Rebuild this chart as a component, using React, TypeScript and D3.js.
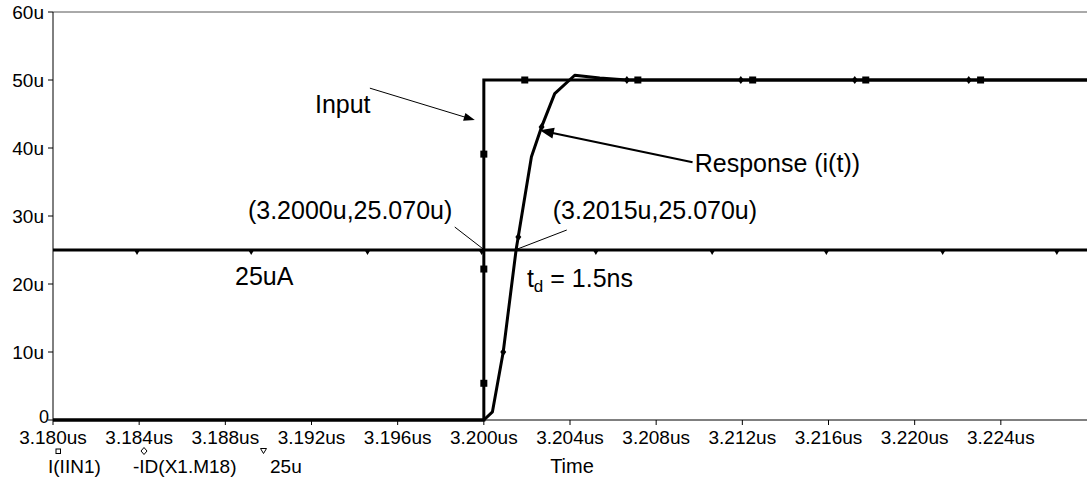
import React from "react";
import * as d3 from "d3";

// Transient simulation: current step input vs. drain current response
const W = 1087;
const H = 483;
const FONT = "'Liberation Sans', Arial, Helvetica, sans-serif";

const xTickValues = [3.18, 3.184, 3.188, 3.192, 3.196, 3.2, 3.204, 3.208, 3.212, 3.216, 3.22, 3.224];
const xTickLabels = ["3.180us", "3.184us", "3.188us", "3.192us", "3.196us", "3.200us", "3.204us", "3.208us", "3.212us", "3.216us", "3.220us", "3.224us"];
const yTickValues = [0, 10, 20, 30, 40, 50, 60];
const yTickLabels = ["0", "10u", "20u", "30u", "40u", "50u", "60u"];

// I(IIN1): ideal step input (uA)
const inputT = [3.18, 3.2, 3.2, 3.228];
const inputV = [0, 0, 50, 50];
const inputMarkT = [3.2, 3.2, 3.2, 3.2019, 3.20715, 3.21248, 3.21773, 3.22306];
const inputMarkV = [5.4, 22.2, 39.1, 50, 50, 50, 50, 50];

// -ID(X1.M18): response current (uA)
const responseT = [3.18, 3.2, 3.2004, 3.2009, 3.2015, 3.20221, 3.20268, 3.20329, 3.20422, 3.20538, 3.20664, 3.228];
const responseV = [0, 0, 1.2, 10.0, 25.07, 38.7, 43.1, 48.0, 50.7, 50.3, 50.0, 50.0];
const responseMarkT = [3.2009, 3.2016, 3.20268, 3.20664, 3.21193, 3.21722, 3.22251];
const responseMarkV = [10.0, 26.9, 43.1, 50, 50, 50, 50];

// 25u reference level
const refT = [3.18, 3.228];
const refV = [25, 25];
const refMarkT = [3.1839, 3.1892, 3.1946, 3.1999, 3.2052, 3.2106, 3.2159, 3.2213, 3.2266];

const legendItems = ["I(IIN1)", "-ID(X1.M18)", "25u"];

const x = d3.scaleLinear().domain([3.18, 3.228]).range([53, 1087]);
const y = d3.scaleLinear().domain([0, 60]).range([420, 12]);

const line = d3
  .line<[number, number]>()
  .x((d) => x(d[0]))
  .y((d) => y(d[1]));

const zip = (a: number[], b: number[]): [number, number][] => a.map((v, i) => [v, b[i]]);

function arrowHead(x1: number, y1: number, x2: number, y2: number, len: number, half: number) {
  const a = Math.atan2(y2 - y1, x2 - x1);
  const bx = x2 - len * Math.cos(a);
  const by = y2 - len * Math.sin(a);
  const px = -Math.sin(a) * half;
  const py = Math.cos(a) * half;
  return `M${x2},${y2}L${bx + px},${by + py}L${bx - px},${by - py}Z`;
}

function Arrow({ from, to, width, len, half }: { from: [number, number]; to: [number, number]; width: number; len: number; half: number }) {
  const x1 = x(from[0]), y1 = y(from[1]), x2 = x(to[0]), y2 = y(to[1]);
  const a = Math.atan2(y2 - y1, x2 - x1);
  const ex = x2 - (len - 1) * Math.cos(a);
  const ey = y2 - (len - 1) * Math.sin(a);
  return (
    <g>
      <line x1={x1} y1={y1} x2={ex} y2={ey} stroke="#000" strokeWidth={width} />
      <path d={arrowHead(x1, y1, x2, y2, len, half)} fill="#000" />
    </g>
  );
}

function Leader({ from, to }: { from: [number, number]; to: [number, number] }) {
  return <line x1={x(from[0])} y1={y(from[1])} x2={x(to[0])} y2={y(to[1])} stroke="#000" strokeWidth={1} />;
}

export default function App() {
  const plotRight = W;
  return (
    <svg
      width={W}
      height={H}
      viewBox={`0 0 ${W} ${H}`}
      style={{ position: "absolute", left: 0, top: 0, display: "block", background: "#fff" }}
      fontFamily={FONT}
    >
      <rect x={0} y={0} width={W} height={H} fill="#fff" />

      {/* frame */}
      <line x1={x(3.18)} y1={y(60)} x2={plotRight} y2={y(60)} stroke="#555" strokeWidth={1} />
      <line x1={x(3.18)} y1={y(60)} x2={x(3.18)} y2={y(0)} stroke="#000" strokeWidth={1} />
      <line x1={x(3.18)} y1={y(0)} x2={plotRight} y2={y(0)} stroke="#000" strokeWidth={1} />

      {/* y axis */}
      {yTickValues.map((v, i) => (
        <g key={"y" + v}>
          <line x1={x(3.18) - 5} x2={x(3.18)} y1={y(v)} y2={y(v)} stroke="#000" strokeWidth={1} />
          <text
            x={v === 0 ? x(3.18) - 4 : x(3.18) - 9}
            y={v === 0 ? y(v) - 3 : y(v)}
            dy="0.35em"
            textAnchor="end"
            fontSize={v === 0 ? 18 : 19}
            fill="#000"
          >
            {yTickLabels[i]}
          </text>
        </g>
      ))}

      {/* x axis */}
      {xTickValues.map((v, i) => (
        <g key={"x" + v}>
          <line x1={x(v)} x2={x(v)} y1={y(0)} y2={y(0) + 5} stroke="#000" strokeWidth={1} />
          <text x={x(v)} y={444} textAnchor="middle" fontSize={19} fill="#000">
            {xTickLabels[i]}
          </text>
        </g>
      ))}

      {/* traces */}
      <path d={line(zip(refT, refV)) || ""} fill="none" stroke="#000" strokeWidth={3} />
      <path d={line(zip(inputT, inputV)) || ""} fill="none" stroke="#000" strokeWidth={3} strokeLinejoin="miter" />
      <path d={line(zip(responseT, responseV)) || ""} fill="none" stroke="#000" strokeWidth={3} strokeLinejoin="round" />

      {/* trace markers */}
      {inputMarkT.map((t, i) => (
        <rect key={"im" + i} x={x(t) - 3.5} y={y(inputMarkV[i]) - 3.5} width={7} height={7} fill="#000" />
      ))}
      {responseMarkT.map((t, i) => {
        const cx = x(t), cy = y(responseMarkV[i]);
        return <path key={"rm" + i} d={`M${cx},${cy - 4}L${cx + 3},${cy}L${cx},${cy + 4}L${cx - 3},${cy}Z`} fill="#000" />;
      })}
      {refMarkT.map((t, i) => {
        const cx = x(t), cy = y(25);
        return <path key={"fm" + i} d={`M${cx - 3.5},${cy - 1}L${cx + 3.5},${cy - 1}L${cx},${cy + 5}Z`} fill="#000" />;
      })}

      {/* annotations */}
      <text x={x(3.19216)} y={y(45.15)} fontSize={25} fill="#000">Input</text>
      <Arrow from={[3.19471, 48.8]} to={[3.19958, 44.1]} width={1} len={11} half={4} />

      <text x={x(3.20979)} y={y(36.5)} fontSize={25} fill="#000">Response (i(t))</text>
      <Arrow from={[3.20969, 37.9]} to={[3.2026, 42.6]} width={2.2} len={14} half={5.5} />

      <text x={x(3.18905)} y={y(29.56)} fontSize={25} fill="#000">(3.2000u,25.070u)</text>
      <Leader from={[3.19865, 28.38]} to={[3.2, 25.07]} />

      <text x={x(3.2032)} y={y(29.56)} fontSize={25} fill="#000">(3.2015u,25.070u)</text>
      <Leader from={[3.20385, 27.94]} to={[3.2015, 25.07]} />

      <text x={x(3.18845)} y={y(19.85)} fontSize={25} fill="#000">25uA</text>

      <text x={x(3.202)} y={y(19.56)} fontSize={25} fill="#000">
        t<tspan fontSize={17} dy={5}>d</tspan>
        <tspan dy={-5}> = 1.5ns</tspan>
      </text>

      {/* legend */}
      <g fontSize={19} fill="#000">
        <text x={48} y={473}>{legendItems[0]}</text>
        <rect x={56} y={449} width={4.5} height={4.5} fill="#fff" stroke="#000" strokeWidth={1} />
        <text x={133} y={473}>{legendItems[1]}</text>
        <path d="M144,447.5L147,451L144,454.5L141,451Z" fill="#fff" stroke="#000" strokeWidth={1} />
        <text x={270} y={473}>{legendItems[2]}</text>
        <path d="M260.5,448.5L266.5,448.5L263.5,453.5Z" fill="#fff" stroke="#000" strokeWidth={1} />
      </g>

      <text x={572} y={473} textAnchor="middle" fontSize={20} fill="#000">Time</text>
    </svg>
  );
}
